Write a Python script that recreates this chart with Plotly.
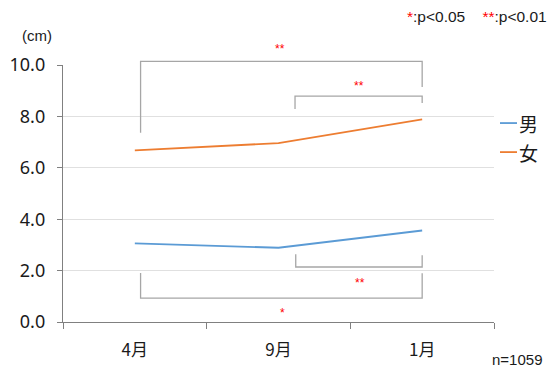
import plotly.graph_objects as go

# ---- data ----
months = ["4月", "9月", "1月"]
male = [3.06, 2.89, 3.56]
female = [6.68, 6.96, 7.88]
y_ticks = [0, 2, 4, 6, 8, 10]
y_tick_labels = ["0.0", "2.0", "4.0", "6.0", "8.0", "10.0"]

# significance brackets: (x_start, x_end, y_bar, y_start_end, y_end_end, label, label_x, label_y)
brackets = [
    (0.04, 2.0, 10.14, 7.36, 9.14, "**", 1.01, 10.62),
    (1.115, 2.0, 8.79, 8.29, 8.52, "**", 1.56, 9.2),
    (1.12, 2.0, 2.14, 2.64, 2.60, "**", 1.57, 1.53),
    (0.04, 2.0, 0.93, 1.91, 1.90, "*", 1.03, 0.36),
]

BLUE = "#5b9bd5"
ORANGE = "#ed7d31"
GRAY = "#a6a6a6"
RED = "#ff0000"

W, H = 551, 367
L, R, T, B = 63, 494, 65, 321.7


def xp(xv):  # category coordinate -> paper
    return (xv + 0.5) / 3


def yp(yv):  # data value -> paper
    return yv / 10


def px(x, y):  # pixel -> paper
    return (x - L) / (R - L), (B - y) / (B - T)


fig = go.Figure()
fig.add_trace(go.Scatter(x=months, y=male, mode="lines", name="男",
                         line=dict(color=BLUE, width=1.8), showlegend=False))
fig.add_trace(go.Scatter(x=months, y=female, mode="lines", name="女",
                         line=dict(color=ORANGE, width=1.8), showlegend=False))

shapes = []
annotations = []
for x0, x1, yb, y0e, y1e, lab, lx, ly in brackets:
    path = (f"M {xp(x0)},{yp(y0e)} L {xp(x0)},{yp(yb)} "
            f"L {xp(x1)},{yp(yb)} L {xp(x1)},{yp(y1e)}")
    shapes.append(dict(type="path", xref="paper", yref="paper", path=path,
                       line=dict(color=GRAY, width=1.3)))
    annotations.append(dict(xref="paper", yref="paper", x=xp(lx), y=yp(ly),
                            text=lab, showarrow=False,
                            font=dict(family="Liberation Sans", size=12, color=RED),
                            xanchor="center", yanchor="middle"))

# custom legend
for name, color, ypix in [("男", BLUE, 123), ("女", ORANGE, 152)]:
    x0p, y0p = px(500, ypix)
    x1p, _ = px(517, ypix)
    shapes.append(dict(type="line", xref="paper", yref="paper", x0=x0p, x1=x1p,
                       y0=y0p, y1=y0p, line=dict(color=color, width=1.8)))
    tx, ty = px(517, ypix)
    annotations.append(dict(xref="paper", yref="paper", x=tx, y=ty, text=name,
                            showarrow=False, xanchor="left", yanchor="middle",
                            font=dict(family="Noto Sans CJK JP", size=19, color="#1a1a1a")))

# texts
ax, ay = px(37, 36)
annotations.append(dict(xref="paper", yref="paper", x=ax, y=ay, text="(cm)",
                        showarrow=False, xanchor="center", yanchor="middle",
                        font=dict(family="Liberation Sans", size=15, color="#1a1a1a")))
ax, ay = px(549, 17)
annotations.append(dict(xref="paper", yref="paper", x=ax, y=ay,
                        text=f"<span style='color:{RED}'>*</span>:p&lt;0.05    "
                             f"<span style='color:{RED}'>**</span>:p&lt;0.01",
                        showarrow=False, xanchor="right", yanchor="middle",
                        font=dict(family="Liberation Sans", size=15.5, color="#1a1a1a")))
ax, ay = px(517, 359)
annotations.append(dict(xref="paper", yref="paper", x=ax, y=ay, text="n=1059",
                        showarrow=False, xanchor="center", yanchor="middle",
                        font=dict(family="Liberation Sans", size=15, color="#1a1a1a")))

fig.update_layout(
    width=W, height=H,
    margin=dict(l=L, r=W - R, t=T, b=H - B),
    paper_bgcolor="white", plot_bgcolor="white",
    shapes=shapes, annotations=annotations,
    xaxis=dict(type="category", range=[-0.5, 2.5], tickson="boundaries",
               ticks="outside", ticklen=6, tickcolor="#808080", tickwidth=1.3,
               showline=True, linecolor="#808080", linewidth=1.3,
               showgrid=False, zeroline=False, ticklabelstandoff=12, automargin=False,
               tickfont=dict(family="Noto Sans CJK JP", size=17, color="#1a1a1a")),
    yaxis=dict(range=[0, 10], tickvals=y_ticks, ticktext=y_tick_labels,
               ticks="outside", ticklen=5, tickcolor="#808080", tickwidth=1.3,
               showline=True, linecolor="#808080", linewidth=1.3,
               showgrid=True, gridcolor="#e0e0e0", gridwidth=1, zeroline=False,
               ticklabelstandoff=8, automargin=False,
               tickfont=dict(family="Noto Sans", size=18, color="#1a1a1a")),
)

fig.write_html("out.html", config={"displayModeBar": False},
               post_script="document.body.style.margin='0px';document.body.style.overflow='hidden';")
